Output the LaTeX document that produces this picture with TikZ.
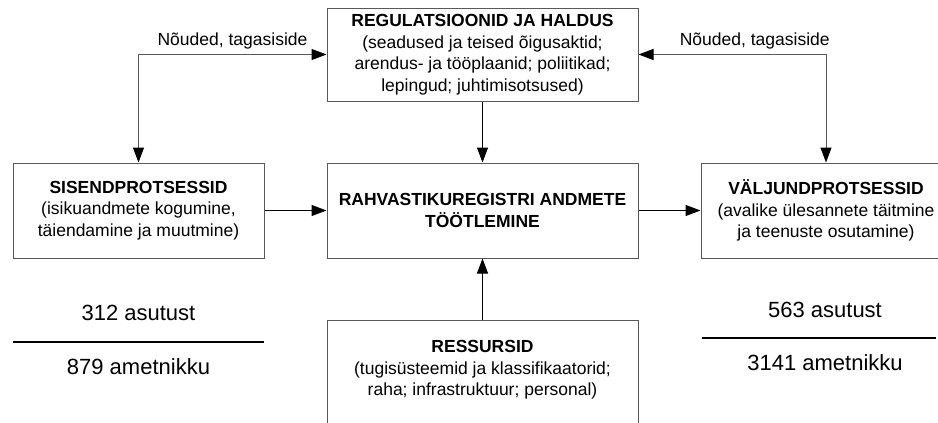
\documentclass[tikz,border=0pt]{standalone}
\usepackage{fontspec}
\setmainfont{Liberation Sans}
\usetikzlibrary{arrows.meta}

\begin{document}
\begin{tikzpicture}[
    % GLOBAL CFG
    x=1pt, y=-1pt,
    font=\fontsize{17.5}{21.5}\selectfont,
    >={Triangle[length=15pt, width=11pt, color=black]},
    % Styles
    block/.style={% For the process boxes
        rectangle,
        draw=black!65,
        line width=1pt,
        align=center,
        inner sep=2pt,
        },
    mylabel/.style={% Text over the feedback lines
        inner sep=5pt,
        },
    count/.style={% Numbers of offices and officials
        font=\fontsize{22}{26}\selectfont,
        inner sep=2pt,
        },
    ArrowC1/.style={% Plain connectors
        line width=1pt,
        },
    ArrowC2/.style={% Feedback connectors
        line width=1pt,
        draw=black!65,
        },
    ]

    \useasboundingbox (0,0) rectangle (938,423);

%Start drawing the thing...
    % Draw the blocks
    \node [block, minimum width=311pt, minimum height=93pt] (reg) at (482.5,54.5)
        {\textbf{REGULATSIOONID JA HALDUS}\\(seadused ja teised õigusaktid;\\arendus- ja tööplaanid; poliitikad;\\lepingud; juhtimisotsused)};
    \node [block, minimum width=251pt, minimum height=95pt] (sisend) at (138.5,210.5)
        {\textbf{SISENDPROTSESSID}\\(isikuandmete kogumine,\\täiendamine ja muutmine)};
    \node [block, minimum width=311pt, minimum height=95pt] (tootlus) at (482.5,210.5)
        {\textbf{RAHVASTIKUREGISTRI ANDMETE}\\\textbf{TÖÖTLEMINE}};
    \node [block, minimum width=250pt, minimum height=95pt] (valjund) at (826,210.5)
        {\textbf{VÄLJUNDPROTSESSID}\\(avalike ülesannete täitmine\\ja teenuste osutamine)};
    \node [block, minimum width=311pt, inner ysep=20pt, text depth=120pt, anchor=north] (ress) at (482.5,320)
        {\textbf{RESSURSID}\\(tugisüsteemid ja klassifikaatorid;\\raha; infrastruktuur; personal)};

    % Draw the counts under the side blocks
    \node [count] (sisend_asutus) at (138.5,313) {312 asutust};
    \node [count] (sisend_ametnik) at (138.5,367) {879 ametnikku};
    \coordinate (sisend_joon_w) at (13,342);
    \coordinate (sisend_joon_e) at (264,342);

    \node [count] (valjund_asutus) at (825,310) {563 asutust};
    \node [count] (valjund_ametnik) at (825,363) {3141 ametnikku};
    \coordinate (valjund_joon_w) at (702,338);
    \coordinate (valjund_joon_e) at (936,338);

% Start connecting all.
    % Main flow
    \draw [->, ArrowC1] (sisend) -- (tootlus);
    \draw [->, ArrowC1] (tootlus) -- (valjund);
    \draw [->, ArrowC1] (reg) -- (tootlus);
    \draw [->, ArrowC1] (ress) -- (tootlus);

    % Feedback
    \draw [<->, ArrowC2] (reg.west) -| (sisend.north)
        node [pos=0.25, above, mylabel] {Nõuded, tagasiside};
    \draw [<->, ArrowC2] (reg.east) -| (valjund.north)
        node [pos=0.31, above, mylabel] {Nõuded, tagasiside};

    % Rules between the counts
    \draw [line width=1.5pt] (sisend_joon_w) -- (sisend_joon_e);
    \draw [line width=1.5pt] (valjund_joon_w) -- (valjund_joon_e);

\end{tikzpicture}
\end{document}
